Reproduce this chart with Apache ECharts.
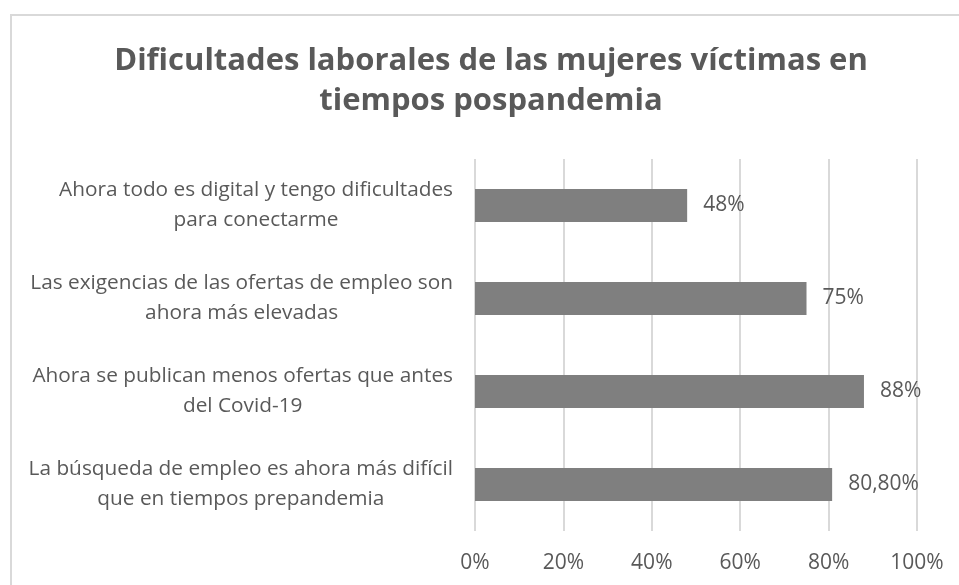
<!DOCTYPE html>
<html>
<head>
<meta charset="utf-8">
<script src="https://cdn.jsdelivr.net/npm/echarts@6/dist/echarts.min.js"></script>
<style>html,body{margin:0;padding:0;background:#fff}#c{width:959px;height:585px}</style>
</head>
<body>
<div id="c"></div>
<script>
const titleText = 'Dificultades laborales de las mujeres víctimas en\ntiempos pospandemia';
const categories = [
  'Ahora todo es digital y tengo dificultades\npara conectarme',
  'Las exigencias de las ofertas de empleo son\nahora más elevadas',
  'Ahora se publican menos ofertas que antes\ndel Covid-19',
  'La búsqueda de empleo es ahora más difícil\nque en tiempos prepandemia'
];
const values = [48, 75, 88, 80.8];
const valueLabels = ['48%', '75%', '88%', '80,80%'];
const xTicks = [0, 20, 40, 60, 80, 100];

const FONT = '"Open Sans", sans-serif';
const TXT = '#595959';

const chart = echarts.init(document.getElementById('c'), null, {renderer: 'canvas'});
chart.setOption({
  backgroundColor: '#ffffff',
  animation: false,
  graphic: [{
    type: 'rect',
    shape: {x: 11, y: 15, width: 1000, height: 700},
    style: {fill: 'none', stroke: '#d9d9d9', lineWidth: 2},
    silent: true,
    z: -1
  }],
  title: {
    text: titleText,
    left: 491,
    top: 41,
    padding: 0,
    textAlign: 'center',
    textStyle: {fontFamily: FONT, fontSize: 31, fontWeight: 'bold', color: TXT, lineHeight: 40}
  },
  grid: {left: 475, right: 42, top: 159, bottom: 54, containLabel: false},
  xAxis: {
    type: 'value',
    min: xTicks[0],
    max: xTicks[xTicks.length - 1],
    interval: xTicks[1] - xTicks[0],
    axisLine: {show: false},
    axisTick: {show: false},
    splitLine: {show: true, lineStyle: {color: '#d9d9d9', width: 2}},
    axisLabel: {
      formatter: v => v + '%',
      fontFamily: FONT, fontSize: 21, color: TXT, margin: 22
    }
  },
  yAxis: {
    type: 'category',
    inverse: true,
    data: categories,
    axisLine: {show: false},
    axisTick: {show: false},
    axisLabel: {
      fontFamily: FONT, fontSize: 20.8, color: TXT, margin: 22,
      align: 'right',
      lineHeight: 30,
      formatter: v => v.split('\n').map(l => '{c|' + l + '}').join('\n'),
      rich: {c: {align: 'center', fontFamily: FONT, fontSize: 20.8, color: TXT, lineHeight: 30}}
    }
  },
  series: [{
    type: 'bar',
    data: values,
    barWidth: 33,
    itemStyle: {color: '#7f7f7f'},
    label: {
      show: true,
      position: 'right',
      distance: 16,
      formatter: p => valueLabels[p.dataIndex],
      fontFamily: FONT, fontSize: 21, color: TXT
    }
  }]
});
</script>
</body>
</html>
